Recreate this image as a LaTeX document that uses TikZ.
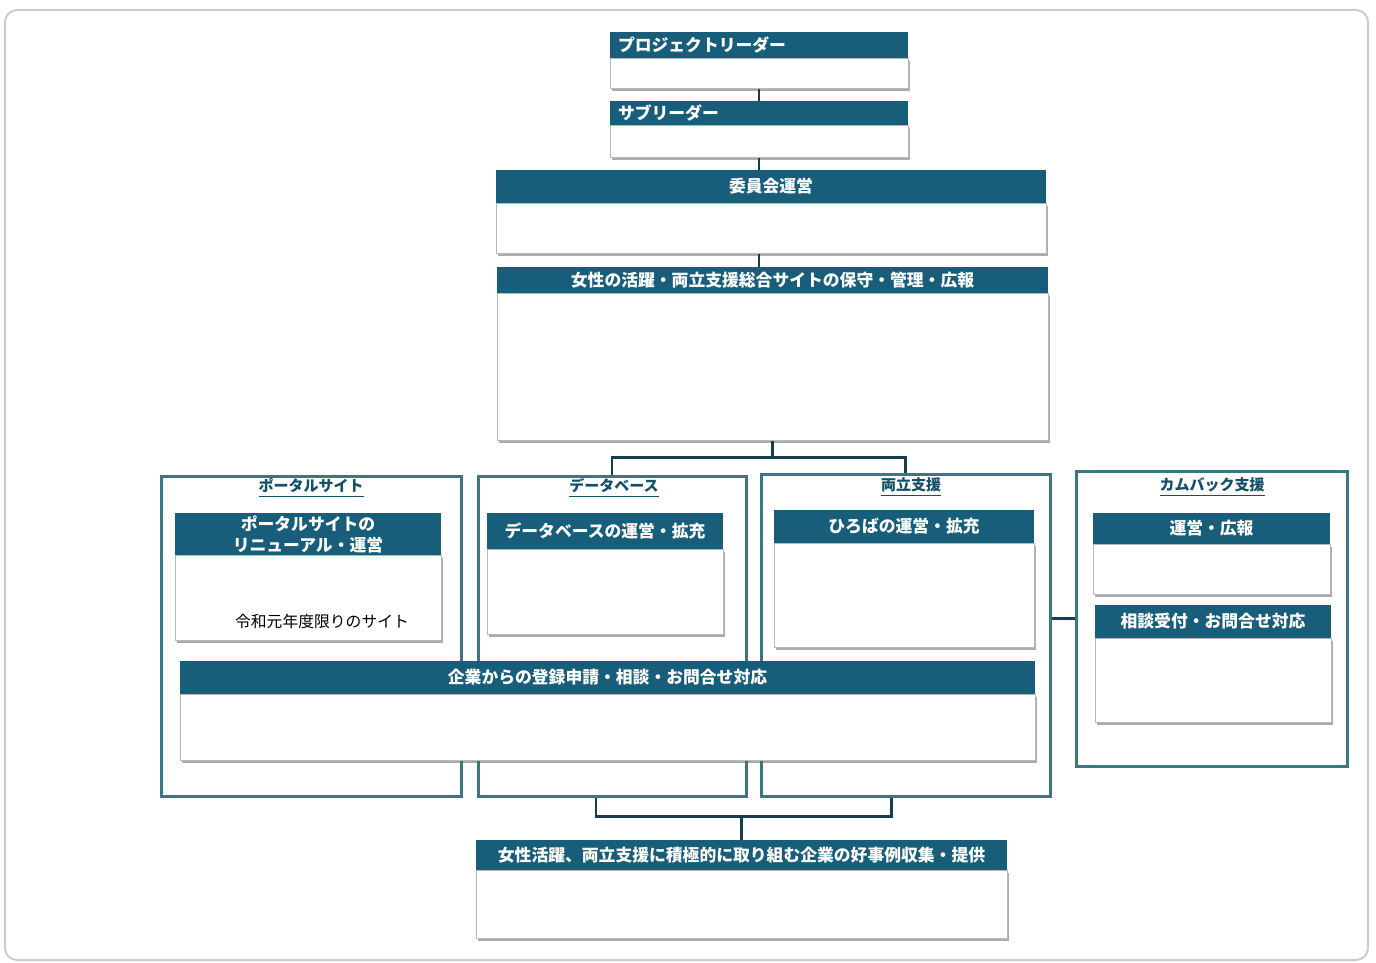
\documentclass[tikz,border=0pt]{standalone}
\usepackage{fontspec}
\setmainfont{Noto Sans CJK JP}
\usepackage{tikz}
\usetikzlibrary{positioning,shadows}
\definecolor{headblue}{RGB}{24,94,122}
\definecolor{grpteal}{RGB}{58,118,132}
\definecolor{linkcol}{RGB}{22,62,78}

\begin{document}
\begin{tikzpicture}[
  x=0.5pt, y=-0.5pt,
  every node/.style={font=\fontsize{8.4}{10.5}\selectfont},
  head/.style={fill=headblue, text=white, inner sep=0pt, align=center,
               font=\fontsize{8.4}{10.5}\selectfont\bfseries},
  body/.style={draw=gray!55, fill=white, inner sep=0pt,
               drop shadow={shadow xshift=1.1pt, shadow yshift=-1.3pt,
                            fill=black!60, opacity=0.55}},
  group/.style={draw=grpteal, line width=1.5pt, fill=white, inner sep=0pt},
  grptag/.style={font=\fontsize{7.5}{9}\selectfont\bfseries, text=headblue!85!black},
  link/.style={draw=linkcol, line width=1.4pt}
]

  \useasboundingbox (0,0) rectangle (1376,963);
  \draw[gray!40, line width=1pt, rounded corners=6pt] (5,10) rectangle (1368,960);

  % --- Leaders ---
  \node[head, text width=141pt, align=left, inner xsep=4pt, minimum height=13pt]
    (plh) at (759,45) {プロジェクトリーダー};
  \node[body, minimum width=149pt, minimum height=15pt, below=0pt of plh] (plb) {};

  \node[head, text width=141pt, align=left, inner xsep=4pt, minimum height=12pt]
    (slh) at (759,113) {サブリーダー};
  \node[body, minimum width=149pt, minimum height=16pt, below=0pt of slh] (slb) {};

  % --- Committee and site ---
  \node[head, minimum width=275pt, minimum height=16.5pt] (iinh) at (771,186.5) {委員会運営};
  \node[body, minimum width=275pt, minimum height=25pt, below=0pt of iinh] (iinb) {};

  \node[head, minimum width=275.5pt, minimum height=13pt] (siteh) at (772.5,280)
    {女性の活躍・両立支援総合サイトの保守・管理・広報};
  \node[body, minimum width=275.5pt, minimum height=73.5pt, below=0pt of siteh] (siteb) {};

  % --- Four groups ---
  \node[group, minimum width=150pt,   minimum height=160pt]   (portal) at (311,636) {};
  \node[group, minimum width=134pt,   minimum height=160pt]   (db)     at (612,636) {};
  \node[group, minimum width=144.5pt, minimum height=161pt]   (ryo)    at (905.5,635) {};
  \node[group, minimum width=135.5pt, minimum height=147.5pt] (cb)     at (1211.5,618.5) {};

  \node[grptag] (portaltag) at (311,488)    {\underline{ポータルサイト}};
  \node[grptag] (dbtag)     at (614,488)    {\underline{データベース}};
  \node[grptag] (ryotag)    at (911,487)    {\underline{両立支援}};
  \node[grptag] (cbtag)     at (1212,487)   {\underline{カムバック支援}};

  % --- Boxes inside the groups ---
  \node[head, minimum width=133pt, minimum height=21pt] (renh) at (308,534)
    {ポータルサイトの\\リニューアル・運営};
  \node[body, minimum width=133pt, minimum height=42.5pt, below=0pt of renh] (renb) {};
  \node[font=\fontsize{7.9}{9}\selectfont] (rennote) at (322,621) {令和元年度限りのサイト};

  \node[head, minimum width=118pt, minimum height=18pt] (dbrh) at (605,531) {データベースの運営・拡充};
  \node[body, minimum width=118pt, minimum height=42.5pt, below=0pt of dbrh] (dbrb) {};

  \node[head, minimum width=130pt, minimum height=16.5pt] (hirh) at (904,526.5) {ひろばの運営・拡充};
  \node[body, minimum width=130pt, minimum height=52pt, below=0pt of hirh] (hirb) {};

  \node[head, minimum width=118.5pt, minimum height=15.5pt] (cbrh) at (1211.5,528.5) {運営・広報};
  \node[body, minimum width=118.5pt, minimum height=25pt, below=0pt of cbrh] (cbrb) {};

  \node[head, minimum width=118pt, minimum height=16.5pt] (cbch) at (1213,621.5) {相談受付・お問合せ対応};
  \node[body, minimum width=118pt, minimum height=42pt, below=0pt of cbch] (cbcb) {};

  \node[head, minimum width=427.5pt, minimum height=16.5pt] (kigh) at (607.5,677.5)
    {企業からの登録申請・相談・お問合せ対応};
  \node[body, minimum width=427.5pt, minimum height=33pt, below=0pt of kigh] (kigb) {};

  % --- Good practice box ---
  \node[head, minimum width=265.5pt, minimum height=15pt] (finh) at (741.5,855)
    {女性活躍、両立支援に積極的に取り組む企業の好事例収集・提供};
  \node[body, minimum width=265.5pt, minimum height=34pt, below=0pt of finh] (finb) {};

  % --- Connectors ---
  \draw[link] (plb.south) -- (slh.north);
  \draw[link] (slb.south) -- (slb.south |- iinh.north);
  \draw[link] (slb.south |- iinb.south) -- (slb.south |- siteh.north);

  \coordinate (split) at ([yshift=-8pt]siteb.south);
  \draw[link] (siteb.south) -- (split);
  \draw[link] (db.north) |- (split) -| (ryo.north);

  \draw[link] (ryo.east |- cb.west) -- (cb.west);

  \coordinate (merge) at ([yshift=11.5pt]finh.north);
  \draw[link] ([xshift=-8pt]db.south) |- (merge) -| ([xshift=-7pt]ryo.south);
  \draw[link] (merge) -- (finh.north);

\end{tikzpicture}
\end{document}
